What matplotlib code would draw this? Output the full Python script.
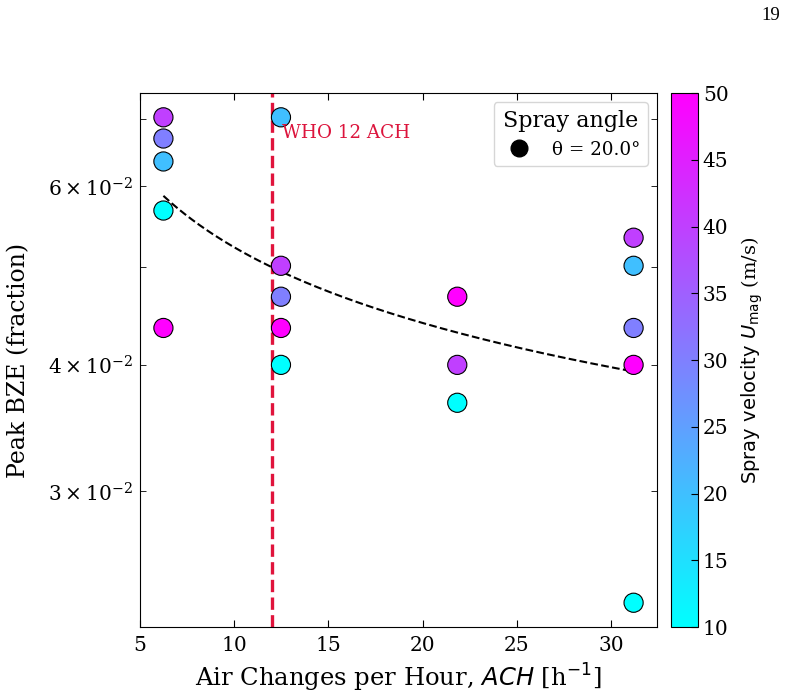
import numpy as np
import matplotlib
matplotlib.use("Agg")
import matplotlib.pyplot as plt
from matplotlib.lines import Line2D
from matplotlib.transforms import blended_transform_factory

plt.rcParams['font.family'] = 'serif'
plt.rcParams['font.serif'] = ['DejaVu Serif']
plt.rcParams['mathtext.fontset'] = 'dejavusans'

# datos
ach = [6.24, 6.24, 6.24, 6.24, 6.24,
       12.48, 12.48, 12.48, 12.48, 12.48,
       21.84, 21.84, 21.84,
       31.2, 31.2, 31.2, 31.2, 31.2]
bze = [0.0702, 0.0669, 0.0635, 0.0568, 0.0435,
       0.0702, 0.0501, 0.0467, 0.0435, 0.0400,
       0.0467, 0.0400, 0.0367,
       0.0534, 0.0501, 0.0435, 0.0400, 0.0233]
umag = [40, 30, 20, 10, 50,
        20, 40, 30, 50, 10,
        50, 40, 10,
        40, 20, 30, 50, 10]
who_ach = 12
spray_angle = 20.0

fig = plt.figure(figsize=(7.86, 6.98), dpi=100)
ax = fig.add_axes([0.178, 0.1017, 0.658, 0.765])
cax = fig.add_axes([0.854, 0.1017, 0.034, 0.765])

sc = ax.scatter(ach, bze, c=umag, cmap='cool', vmin=10, vmax=50,
                s=190, edgecolors='black', linewidths=0.8, zorder=3)

# ajuste potencial en log-log
b, a = np.polyfit(np.log10(ach), np.log10(bze), 1)
xf = np.linspace(min(ach), max(ach), 200)
ax.plot(xf, 10 ** (a + b * np.log10(xf)), 'k--', lw=1.5, zorder=2)

ax.axvline(who_ach, color='#E0143C', ls='--', lw=2.4, zorder=1)
tr = blended_transform_factory(ax.transData, ax.transAxes)
ax.text(who_ach + 0.55, 0.925, 'WHO 12 ACH', color='#DC143C', fontsize=13.2,
        transform=tr, va='center', ha='left')

ax.set_yscale('log')
ax.set_xlabel(r'Air Changes per Hour, $ACH$ [h$^{-1}$]', fontsize=17.5, labelpad=5)
ax.set_ylabel('Peak BZE (fraction)', fontsize=17, labelpad=13)
ax.tick_params(which='both', direction='in', top=True, right=True, labelsize=14.5)
ax.tick_params(axis='x', pad=6.5)
ax.tick_params(axis='y', which='both', pad=5)
ax.tick_params(which='major', length=5)
ax.tick_params(which='minor', length=4.5)

handle = Line2D([], [], marker='o', color='black', ls='none', markersize=12)
ax.legend([handle], [f'θ = {spray_angle:.1f}°'], title='Spray angle',
          loc='upper right', fontsize=13.2, title_fontsize=16)

cb = fig.colorbar(sc, cax=cax)
cb.set_ticks(np.arange(10, 51, 5))
cb.ax.tick_params(direction='in', labelsize=14.5, length=5)
cb.set_label(r'$\mathrm{Spray\ velocity}\ U_{\mathrm{mag}}$ (m/s)', fontsize=14, labelpad=8)

fig.text(0.981, 0.99, '19', fontsize=13.5, family='Liberation Serif', ha='center', va='top')

fig.savefig('out.png', dpi=100)
